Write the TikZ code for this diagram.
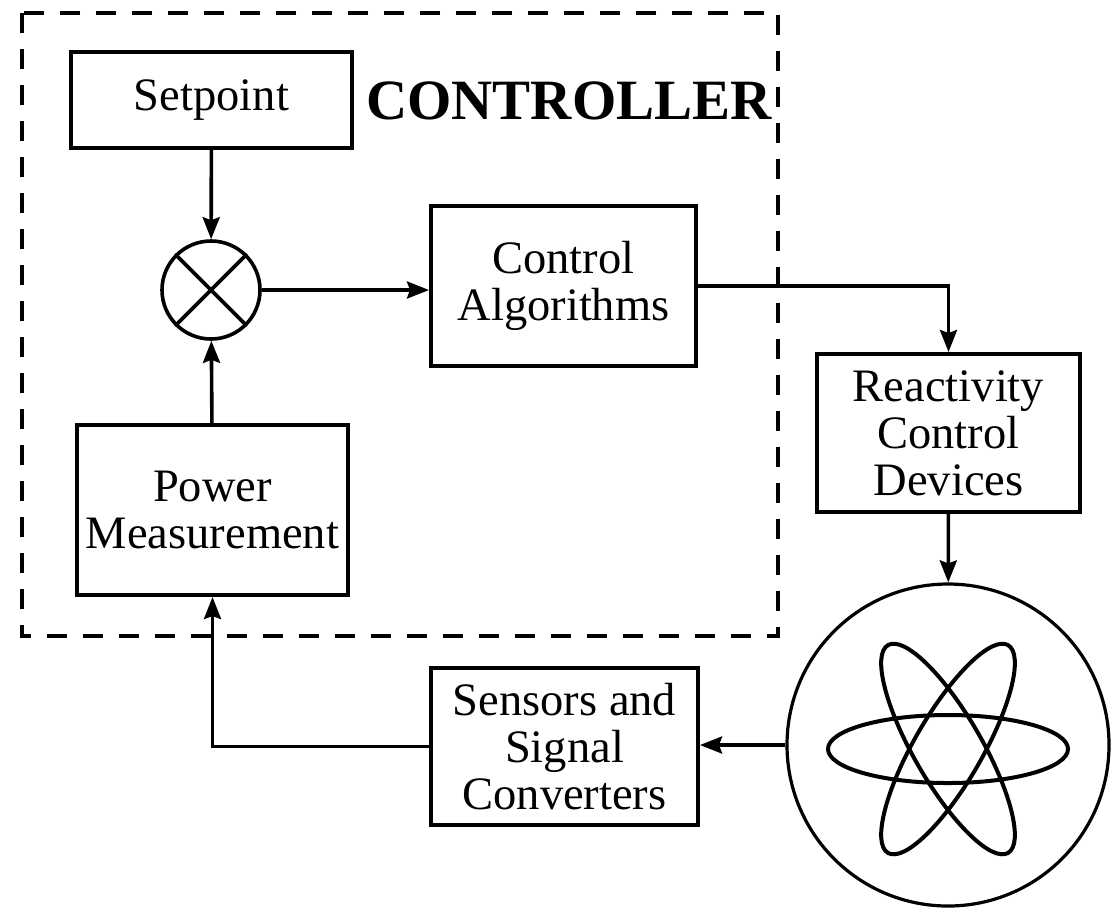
\documentclass[tikz,border=0pt]{standalone}
\usepackage{fontspec}
\setmainfont{Liberation Serif}
\usetikzlibrary{arrows.meta}
\begin{document}
\begin{tikzpicture}[x=0.5pt,y=-0.5pt,
  blockbox/.style={draw,line width=2pt,inner sep=0pt,align=center,
    font=\fontsize{23.25pt}{23.5pt}\selectfont},
  conn/.style={line width=1.8pt},
  arr/.style={conn,-{Stealth[length=11pt,width=8.5pt,inset=1.5pt]}},
  ctrlbox/.style={line width=2pt,dash pattern=on 10pt off 8pt}]
\useasboundingbox (0,0) rectangle (1111,912);
% controller boundary
\draw[ctrlbox] (22,13) rectangle (778,636);
\node[font=\fontsize{28.5pt}{30pt}\selectfont\bfseries] (title) at (569,101) {CONTROLLER};
% blocks
\node[blockbox,minimum width=140.5pt,minimum height=48pt] (setpoint) at (211.5,100) {Setpoint};
\node[draw,circle,line width=1.8pt,minimum size=49pt,inner sep=0pt] (sum) at (211,290) {};
\draw[line width=1.8pt] (sum.45) -- (sum.225) (sum.135) -- (sum.315);
\node[blockbox,minimum width=132.5pt,minimum height=80pt] (ca) at (563.5,286) {Control\\Algorithms};
\node[blockbox,minimum width=135.5pt,minimum height=85pt] (power) at (212.5,510) {Power\\Measurement};
\node[blockbox,minimum width=131.5pt,minimum height=79pt] (react) at (948.5,433) {Reactivity\\Control\\Devices};
\node[blockbox,minimum width=133.5pt,minimum height=78.5pt] (sens) at (564.5,746.5) {Sensors and\\Signal\\Converters};
\node[draw,circle,line width=1.6pt,minimum size=161pt,inner sep=0pt] (core) at (948,745) {};
% atom symbol
\foreach \a in {0,60,120}
  \draw[line width=2pt,rotate around={\a:(948,749)}] (948,749) ellipse [x radius=120,y radius=34];
% connectors
\draw[arr] (setpoint) -- (sum);
\draw[arr] (power) -- (sum);
\draw[arr] (sum.east) -- (sum.east -| ca.west);
\draw[arr] (ca.east) -| (react.north);
\draw[arr] (react) -- (core);
\draw[arr] (core.west) -- (core.west -| sens.east);
\draw[arr] (sens.west) -| (power.south);
\end{tikzpicture}
\end{document}
